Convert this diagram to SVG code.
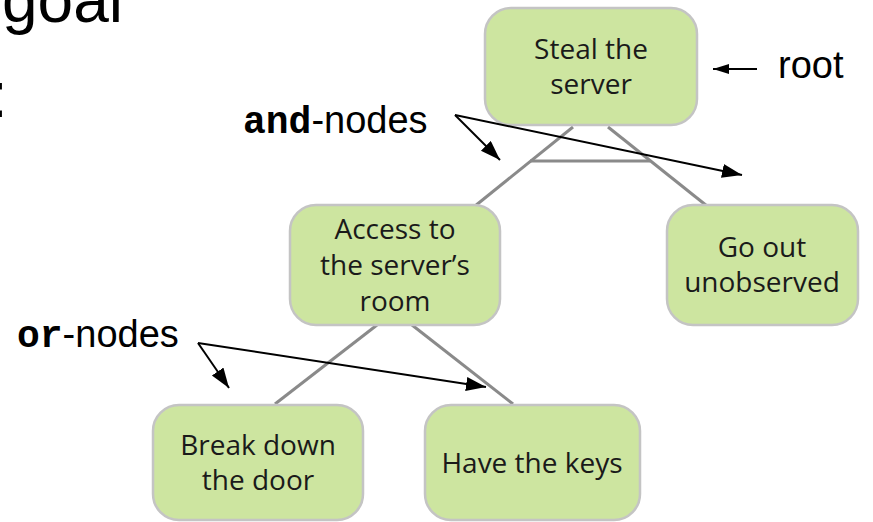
<svg xmlns="http://www.w3.org/2000/svg" width="873" height="522" viewBox="0 0 873 522">
<style>
.node rect{fill:#cde5a0;stroke:#c4c4c4;stroke-width:2.5}
.node text{font-family:"Open Sans","Noto Sans",sans-serif;font-size:28px;fill:#1a1a1a;text-anchor:middle}
.edge{stroke:#8a8a8a;stroke-width:3;fill:none}
.ptr{stroke:#000;stroke-width:2;fill:none}
.lbl{font-family:"Liberation Sans",Arial,sans-serif;font-size:38px;fill:#000}
.mono{font-family:"Liberation Mono","Courier New",monospace;font-weight:bold}
</style>
<defs>
<marker id="ah" markerUnits="userSpaceOnUse" markerWidth="22" markerHeight="16" refX="20" refY="7" orient="auto">
<path d="M0,0 L20,7 L0,14 z" fill="#000"/>
</marker>
<marker id="ahs" markerUnits="userSpaceOnUse" markerWidth="18" markerHeight="12" refX="16" refY="5" orient="auto">
<path d="M0,0 L16,5 L0,10 z" fill="#000"/>
</marker>
</defs>
<text class="lbl" x="2" y="22" style="font-size:64px">goal</text>
<text class="lbl" x="-10" y="117" style="font-size:64px">:</text>
<g id="connectors">
<line class="edge" x1="573" y1="127" x2="475" y2="206"/>
<line class="edge" x1="608" y1="127" x2="707" y2="206"/>
<line class="edge" x1="530" y1="161" x2="650" y2="161"/>
<line class="edge" x1="377" y1="325" x2="275" y2="404"/>
<line class="edge" x1="412" y1="325" x2="513" y2="404"/>
</g>
<g id="root" class="node">
<rect x="485" y="8" width="212" height="117" rx="26"/>
<text x="591" y="59">Steal the</text>
<text x="591" y="94">server</text>
</g>
<g id="access" class="node">
<rect x="290" y="205" width="210" height="120" rx="26"/>
<text x="395" y="239">Access to</text>
<text x="395" y="275">the server’s</text>
<text x="395" y="311">room</text>
</g>
<g id="goout" class="node">
<rect x="667" y="205" width="191" height="120" rx="26"/>
<text x="762" y="257">Go out</text>
<text x="762" y="292">unobserved</text>
</g>
<g id="break" class="node">
<rect x="153" y="405" width="210" height="115" rx="26"/>
<text x="258" y="455">Break down</text>
<text x="258" y="490">the door</text>
</g>
<g id="keys" class="node">
<rect x="425" y="405" width="215" height="115" rx="26"/>
<text x="532" y="473">Have the keys</text>
</g>
<g id="annotations">
<text class="lbl" x="243" y="133"><tspan class="mono">and</tspan>-nodes</text>
<line class="ptr" x1="455" y1="115" x2="500" y2="160" marker-end="url(#ah)"/>
<line class="ptr" x1="455" y1="115" x2="742" y2="175" marker-end="url(#ah)"/>
<text class="lbl" x="17" y="347"><tspan class="mono">or</tspan>-nodes</text>
<line class="ptr" x1="198" y1="343" x2="229" y2="388" marker-end="url(#ah)"/>
<line class="ptr" x1="198" y1="343" x2="486" y2="387" marker-end="url(#ah)"/>
<text class="lbl" x="778" y="78">root</text>
<line class="ptr" x1="757" y1="69" x2="713" y2="69" marker-end="url(#ahs)"/>
</g>
</svg>
